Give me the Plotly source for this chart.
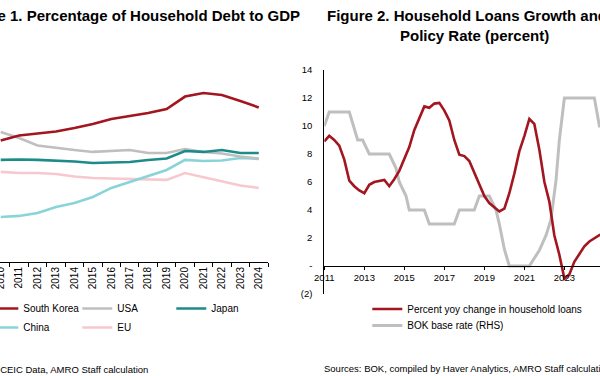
import plotly.graph_objects as go

W, H = 600, 376

# ---------------- Figure 1 data (household debt, % of GDP) ----------------
years = [str(y) for y in range(2010, 2025)]
south_korea = [75.9, 79.1, 80.3, 81.6, 83.8, 86.3, 89.4, 91.3, 93.1, 95.6, 103.4, 105.6, 104.4, 100.6, 96.6]
usa = [81.3, 77.5, 72.8, 71.3, 70.0, 68.8, 69.4, 70.0, 68.1, 68.1, 70.6, 68.8, 67.8, 65.9, 64.7]
japan = [63.8, 64.1, 63.8, 63.4, 62.8, 61.9, 62.2, 62.5, 63.8, 64.7, 69.4, 68.8, 70.0, 68.1, 68.1]
china = [28.1, 28.8, 30.6, 34.4, 36.9, 40.6, 46.3, 50.0, 53.8, 57.5, 63.8, 63.1, 63.4, 65.0, 64.4]
eu = [56.3, 55.6, 55.6, 55.0, 53.4, 52.5, 52.2, 51.9, 51.3, 51.3, 55.6, 53.1, 50.6, 47.8, 46.3]

# ---------------- Figure 2 data ----------------
loan_dates = [
    "2011-01-01", "2011-04-01", "2011-07-01", "2011-10-01",
    "2012-01-01", "2012-04-01", "2012-07-01", "2012-10-01",
    "2013-01-01", "2013-04-01", "2013-07-01", "2013-10-01",
    "2014-01-01", "2014-04-01", "2014-07-01", "2014-10-01",
    "2015-01-01", "2015-04-01", "2015-07-01", "2015-10-01",
    "2016-01-01", "2016-04-01", "2016-07-01", "2016-10-01",
    "2017-01-01", "2017-04-01", "2017-07-01", "2017-10-01",
    "2018-01-01", "2018-04-01", "2018-07-01", "2018-10-01",
    "2019-01-01", "2019-04-01", "2019-07-01", "2019-10-01",
    "2020-01-01", "2020-04-01", "2020-07-01", "2020-10-01",
    "2021-01-01", "2021-04-01", "2021-07-01", "2021-10-01",
    "2022-01-01", "2022-04-01", "2022-07-01", "2022-10-01",
    "2023-01-01", "2023-04-01", "2023-07-01", "2023-10-01",
    "2024-01-01", "2024-04-01", "2024-07-01", "2024-10-01",
    "2025-01-01",
]
loan_growth = [
    8.9, 9.3, 9.0, 8.6,
    7.6, 6.1, 5.7, 5.4,
    5.2, 5.8, 6.0, 6.1,
    6.15, 5.7, 6.2, 6.8,
    7.6, 8.5, 9.7, 10.5,
    11.4, 11.3, 11.6, 11.65,
    11.1, 10.4, 9.0, 7.95,
    7.85, 7.5, 6.7, 5.8,
    5.0, 4.5, 4.2, 3.9,
    4.1, 5.2, 6.6, 8.2,
    9.3, 10.5, 10.15, 8.3,
    6.0, 4.6, 2.2, 0.8,
    -0.9, -0.6, 0.3, 0.9,
    1.4, 1.75, 2.0, 2.2,
    2.4,
]

rate_dates = [
    "2011-01-01", "2011-04-01", "2012-04-01", "2012-09-01", "2012-12-01",
    "2013-04-01", "2014-04-01", "2014-08-01", "2014-10-01", "2015-02-01",
    "2015-04-01", "2016-01-01", "2016-04-01", "2017-07-01", "2017-10-01",
    "2018-07-01", "2018-10-01", "2019-04-01", "2019-08-01", "2019-10-01",
    "2020-01-01", "2020-04-01", "2021-04-01", "2021-08-01", "2021-10-01",
    "2022-02-01", "2022-05-01", "2022-08-01", "2022-10-01", "2023-01-01",
    "2024-07-01", "2024-10-01", "2025-01-01", "2025-03-01",
]
bok_rate = [
    3.0, 3.25, 3.25, 2.75, 2.75,
    2.5, 2.5, 2.25, 2.0, 1.75,
    1.5, 1.5, 1.25, 1.25, 1.5,
    1.5, 1.75, 1.75, 1.5, 1.25,
    0.8, 0.5, 0.5, 0.7, 0.78,
    1.05, 1.33, 2.03, 2.75, 3.5,
    3.5, 3.0, 3.0, 2.75,
]

lhs_ticks = [-2, 0, 2, 4, 6, 8, 10, 12, 14]
lhs_ticktext = ["(2)", "-", "2", "4", "6", "8", "10", "12", "14"]

FONT = "Liberation Sans, Arial, sans-serif"
RED = "#A3161F"
GRAY = "#BFBFBF"
TEAL = "#1E8B8B"
CYAN = "#8AD4D9"
PINK = "#F7C9CF"


def px_x(p):
    return p / W


def px_y(p):
    return 1 - p / H


fig = go.Figure()

# Left chart traces (drawing order), legend order via legendrank
left_series = [
    ("EU", eu, PINK, "legend2", 2),
    ("China", china, CYAN, "legend2", 1),
    ("USA", usa, GRAY, "legend", 2),
    ("Japan", japan, TEAL, "legend", 3),
    ("South Korea", south_korea, RED, "legend", 1),
]
for name, vals, color, leg, rank in left_series:
    fig.add_trace(go.Scatter(
        x=years, y=vals, mode="lines", name=name,
        line=dict(color=color, width=2.6),
        xaxis="x", yaxis="y", legend=leg, legendrank=rank,
        hoverinfo="skip",
    ))

# Right chart traces
fig.add_trace(go.Scatter(
    x=rate_dates, y=bok_rate, mode="lines", name="BOK base rate (RHS)",
    line=dict(color=GRAY, width=3),
    xaxis="x2", yaxis="y2", legend="legend4", hoverinfo="skip",
))
fig.add_trace(go.Scatter(
    x=loan_dates, y=loan_growth, mode="lines",
    name="Percent yoy change in household loans",
    line=dict(color=RED, width=2.6),
    xaxis="x2", yaxis="y3", legend="legend3", hoverinfo="skip",
))

legend_common = dict(
    orientation="h", xanchor="left", yanchor="top",
    font=dict(family=FONT, size=10, color="#000"),
    bgcolor="rgba(0,0,0,0)", borderwidth=0,
    entrywidth=49, entrywidthmode="pixels",
)

fig.update_layout(
    width=W, height=H,
    margin=dict(l=0, r=0, t=0, b=0, autoexpand=False),
    paper_bgcolor="white", plot_bgcolor="white",
    font=dict(family=FONT, color="#000"),
    xaxis=dict(
        domain=[0, px_x(268)], type="category",
        range=[-0.038, 14.5], tickson="boundaries",
        ticks="outside", ticklen=4, tickcolor="#000", tickwidth=1,
        tickangle=-90, tickfont=dict(size=10, color="#000"),
        showline=True, linecolor="#000", linewidth=1,
        showgrid=False, zeroline=False, anchor="y",
    ),
    yaxis=dict(
        domain=[px_y(262), px_y(38)], range=[0, 140],
        visible=False, anchor="x",
    ),
    xaxis2=dict(
        domain=[px_x(324.3), 1], type="date",
        range=["2011-01-01", "2024-10-12"],
        tick0="2011-01-01", dtick="M24", tickformat="%Y",
        ticks="outside", ticklen=3, tickcolor="#000",
        tickfont=dict(size=9.5, color="#000"),
        showline=True, linecolor="#000", linewidth=1,
        showgrid=False, zeroline=False,
        anchor="free", position=px_y(266),
    ),
    yaxis2=dict(
        domain=[px_y(294), px_y(70)], range=[0, 4],
        anchor="x2", side="right",
        showticklabels=False, showline=False, showgrid=False, zeroline=False,
        ticks="",
    ),
    yaxis3=dict(
        domain=[px_y(294), px_y(70)], range=[-2, 14],
        overlaying="y2", anchor="x2", side="left",
        tickvals=lhs_ticks, ticktext=lhs_ticktext,
        ticks="", ticklabelstandoff=9,
        tickfont=dict(size=9.5, color="#000"),
        showline=True, linecolor="#000", linewidth=1,
        showgrid=False, zeroline=False,
    ),
    legend=dict(legend_common, x=px_x(-16.7), y=px_y(294.0)),
    legend2=dict(legend_common, x=px_x(-16.7), y=px_y(313.0)),
    legend3=dict(legend_common, x=px_x(367.3), y=px_y(294.5), entrywidth=200),
    legend4=dict(legend_common, x=px_x(367.3), y=px_y(311.0), entrywidth=200),
    showlegend=True,
)

annotations = [
    dict(text="<b>Figure 1. Percentage of Household Debt to GDP</b>",
         x=px_x(302), y=px_y(15.5), xanchor="right", yanchor="middle",
         font=dict(size=15)),
    dict(text="<b>Figure 2. Household Loans Growth and</b>",
         x=px_x(324.5), y=px_y(15.5), xanchor="left", yanchor="middle",
         font=dict(size=15)),
    dict(text="<b>Policy Rate (percent)</b>",
         x=px_x(474.3), y=px_y(35.5), xanchor="center", yanchor="middle",
         font=dict(size=15)),
    dict(text="Sources: CEIC Data, AMRO Staff calculation",
         x=px_x(149.5), y=px_y(369), xanchor="right", yanchor="middle",
         font=dict(size=9.5)),
    dict(text="Sources: BOK, compiled by Haver Analytics, AMRO Staff calculation",
         x=px_x(321.5), y=px_y(368.3), xanchor="left", yanchor="middle",
         font=dict(size=9.5)),
]
for a in annotations:
    a.update(xref="paper", yref="paper", showarrow=False)
    a["font"].update(family=FONT, color="#000")
fig.update_layout(annotations=annotations)

fig.write_html(
    "out.html",
    config={"displayModeBar": False, "staticPlot": True},
    post_script="document.body.style.margin='0';document.body.style.overflow='hidden';",
)
